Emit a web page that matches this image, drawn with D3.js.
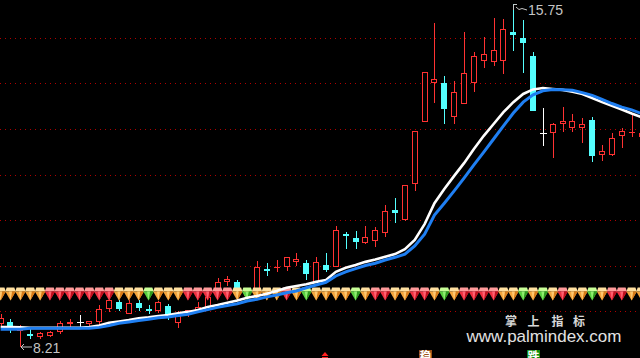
<!DOCTYPE html>
<html><head><meta charset="utf-8">
<script src="https://cdn.jsdelivr.net/npm/d3@7"></script>
<style>html,body{margin:0;padding:0;background:#000;overflow:hidden}</style>
</head><body>
<svg id="c" width="640" height="358"></svg>
<script>
// ---- data ----
const opens  = [8.71,8.76,8.56,8.49,8.43,8.45,8.54,8.71,8.76,8.71,8.76,9.04,9.20,8.93,9.18,9.04,9.00,9.11,8.74,8.96,
                8.98,9.09,9.42,9.64,9.64,9.33,9.46,9.92,9.95,9.97,10.08,10.05,9.64,10.01,9.97,10.69,10.60,10.49,10.54,10.71,
                11.22,11.00,11.79,13.15,14.01,14.01,13.26,13.55,14.01,14.49,14.47,14.49,15.13,15.00,14.60,12.91,12.91,13.11,13.02,13.02,
                13.20,12.43,12.43,12.85,12.91,12.82];
const highs  = [8.93,8.82,8.69,8.60,8.54,8.56,8.78,8.82,8.91,8.78,9.13,9.29,9.24,9.24,9.24,9.13,9.22,9.15,9.00,9.02,
                9.20,9.40,9.73,9.77,9.68,9.48,10.10,10.05,10.12,10.19,10.27,10.12,10.19,10.27,10.87,10.74,10.76,10.87,10.85,11.33,
                11.48,11.77,12.96,14.25,15.33,14.16,14.05,15.13,14.69,15.02,15.44,15.42,15.75,15.40,14.69,13.46,13.13,13.48,13.33,13.24,
                13.26,12.65,12.91,13.02,13.31,12.98];
const lows   = [8.63,8.52,8.21,8.38,8.38,8.43,8.49,8.65,8.65,8.67,8.71,8.98,9.00,8.93,9.00,8.93,8.96,8.80,8.63,8.87,
                8.96,9.07,9.33,9.55,9.42,9.29,9.42,9.77,9.86,9.88,9.99,9.68,9.64,9.86,9.97,10.36,10.36,10.47,10.41,10.63,
                10.93,10.98,11.64,13.15,13.57,13.11,13.11,13.55,13.81,14.34,14.38,14.21,14.71,14.23,13.40,12.63,12.36,12.93,12.93,12.69,
                12.27,12.30,12.41,12.58,12.82,12.78];
const closes = [8.85,8.65,8.63,8.45,8.52,8.54,8.74,8.75,8.76,8.78,9.04,9.24,9.04,9.18,9.07,9.00,9.20,8.93,8.89,9.02,
                9.09,9.31,9.64,9.70,9.51,9.44,9.97,9.88,9.97,10.19,10.14,9.81,10.08,9.90,10.78,10.65,10.52,10.63,10.78,11.20,
                11.15,11.77,12.96,14.25,14.10,13.44,13.81,14.23,14.60,14.65,14.74,15.20,15.07,14.89,13.40,12.91,13.11,13.18,13.18,13.11,
                12.41,12.52,12.80,12.96,12.93,12.91];
const maWhite = [8.65,8.65,8.64,8.63,8.63,8.63,8.63,8.63,8.63,8.65,8.68,8.74,8.77,8.80,8.84,8.86,8.89,8.91,8.95,8.98,
                 9.02,9.09,9.13,9.18,9.23,9.29,9.33,9.38,9.44,9.51,9.55,9.59,9.64,9.68,9.86,9.95,10.01,10.08,10.13,10.19,
                 10.25,10.36,10.56,10.91,11.37,11.68,11.97,12.25,12.56,12.85,13.11,13.37,13.59,13.77,13.87,13.90,13.88,13.86,13.82,13.77,
                 13.68,13.59,13.51,13.43,13.34,13.26];
const maBlue  = [8.60,8.60,8.60,8.62,8.62,8.62,8.62,8.62,8.62,8.62,8.64,8.68,8.73,8.76,8.79,8.82,8.85,8.87,8.90,8.93,
                 8.98,9.03,9.08,9.12,9.16,9.22,9.26,9.31,9.35,9.40,9.44,9.51,9.57,9.63,9.77,9.86,9.93,10.00,10.05,10.12,
                 10.18,10.25,10.43,10.69,11.11,11.37,11.64,11.92,12.21,12.49,12.78,13.07,13.35,13.59,13.75,13.84,13.87,13.86,13.85,13.80,
                 13.74,13.65,13.56,13.48,13.42,13.34];
// signal state per candle: 0 = neutral, 1 = hot, 2 = cool
const signals = [0,0,0,0,0,1,1,1,1,1,1,1,0,0,0,2,0,0,0,1,
                 1,1,1,1,0,2,0,0,0,1,0,2,0,0,0,0,2,0,1,1,
                 0,0,1,1,0,2,0,1,1,1,1,0,0,2,0,2,0,1,0,0,
                 2,0,1,1,0,0];
const gridPrices = [9,10,11,12,13,14,15];
const highIndex = 52, lowIndex = 2;
const markerUpIndex = 33;
const boxMarks = [{idx:43, text:"稳", kind:"steady"}, {idx:54, text:"跌", kind:"fall"}];
const brandName = ["掌","上","指","标"];
const brandUrl = "www.palmindex.com";

// ---- drawing ----
const W = 640, H = 358;
const svg = d3.select('#c');
svg.append('rect').attr('width', W).attr('height', H).attr('fill', '#000');

const n = opens.length;
const x = d3.scalePoint().domain(d3.range(n)).range([0.64, 641.5]);
const y = d3.scaleLinear().domain([9, 15]).range([311, 38]);

const RED = '#ff3232', CYAN = '#54ffff';

// grid
svg.append('g').selectAll('line').data(gridPrices).join('line')
  .attr('x1', 0).attr('x2', W)
  .attr('y1', d => Math.round(y(d)) + 0.5).attr('y2', d => Math.round(y(d)) + 0.5)
  .attr('stroke', '#b00000').attr('stroke-width', 1).attr('stroke-dasharray', '1 4');

// candles
const cg = svg.append('g').attr('shape-rendering', 'crispEdges');
d3.range(n).forEach(i => {
  const c = Math.round(x(i));
  const o = opens[i], cl = closes[i];
  const up = cl > o, down = cl < o;
  const yT = Math.round(y(Math.max(o, cl))), yB = Math.round(y(Math.min(o, cl)));
  const yH = Math.round(y(highs[i])), yL = Math.round(y(lows[i]));
  const wx = c + 0.5;
  if (up) {
    if (yB - yT <= 1) {
      cg.append('line').attr('x1', wx).attr('x2', wx).attr('y1', yH).attr('y2', yL).attr('stroke', RED);
      cg.append('rect').attr('x', c - 3).attr('y', yT).attr('width', 6).attr('height', Math.max(1, yB - yT)).attr('fill', RED);
    } else {
      if (yT > yH) cg.append('line').attr('x1', wx).attr('x2', wx).attr('y1', yH).attr('y2', yT).attr('stroke', RED);
      if (yL > yB) cg.append('line').attr('x1', wx).attr('x2', wx).attr('y1', yB).attr('y2', yL).attr('stroke', RED);
      cg.append('rect').attr('x', c - 2.5).attr('y', yT + 0.5).attr('width', 5).attr('height', yB - yT - 1)
        .attr('fill', '#000').attr('stroke', RED).attr('stroke-width', 1);
    }
  } else if (down) {
    cg.append('line').attr('x1', wx).attr('x2', wx).attr('y1', yH).attr('y2', yL).attr('stroke', CYAN);
    cg.append('rect').attr('x', c - 3).attr('y', yT).attr('width', 6).attr('height', Math.max(1, yB - yT)).attr('fill', CYAN);
  } else {
    cg.append('line').attr('x1', wx).attr('x2', wx).attr('y1', yH).attr('y2', yL).attr('stroke', '#fff');
    cg.append('line').attr('x1', c - 3).attr('x2', c + 4).attr('y1', yT + 0.5).attr('y2', yT + 0.5).attr('stroke', '#fff');
  }
});

// gem row
const gemColors = [
  {top:'#ffe0a0', main:'#f4a53c', dark:'#d77b18', mid:'#ffc870'},
  {top:'#ff9a9a', main:'#ee3040', dark:'#c0101e', mid:'#ff6070'},
  {top:'#c8ff98', main:'#58d040', dark:'#2f9a1e', mid:'#90ee70'}
];
const gg = svg.append('g');
signals.forEach((s, i) => {
  const c = x(i), col = gemColors[s];
  const t = 287.5, m = 291.5, b = 300.5;
  gg.append('polygon').attr('points', `${c-3.8},${t} ${c+3.8},${t} ${c+5.2},${m} ${c-5.2},${m}`).attr('fill', col.top);
  gg.append('polygon').attr('points', `${c-5.2},${m} ${c+5.2},${m} ${c},${b}`).attr('fill', col.main);
  gg.append('polygon').attr('points', `${c+1.5},${m} ${c+5.2},${m} ${c},${b}`).attr('fill', col.dark);
  gg.append('polygon').attr('points', `${c-1.5},${m} ${c+1.5},${m} ${c},${b}`).attr('fill', col.mid);
});

// moving averages
const line = d3.line().x((d, i) => x(i)).y(d => y(d));
svg.append('path').datum(maWhite).attr('d', line).attr('fill', 'none').attr('stroke', '#ffffff').attr('stroke-width', 2.6);
svg.append('path').datum(maBlue).attr('d', line).attr('fill', 'none').attr('stroke', '#1f7ff2').attr('stroke-width', 3);

// high label
const LBL = '#c4c4c4';
{
  const c = Math.round(x(highIndex)), yy = Math.round(y(highs[highIndex]));
  svg.append('path').attr('d', `M${c+0.5},${yy+6} V${yy+0.5} H${c+4} M${c+3},${yy+3} L${c+6},${yy+5.5} L${c+9},${yy+4.5} L${c+14},${yy+6}`)
    .attr('fill', 'none').attr('stroke', LBL).attr('stroke-width', 1);
  svg.append('text').attr('x', c + 15).attr('y', yy + 11).text(highs[highIndex].toFixed(2))
    .attr('fill', LBL).attr('font-family', 'Liberation Sans Narrow, Liberation Sans, Arial, sans-serif').attr('font-size', 14);
}
// low label
{
  const c = Math.round(x(lowIndex)), yy = Math.round(y(lows[lowIndex]));
  svg.append('path').attr('d', `M${c+4},${yy-3} L${c+1},${yy} L${c+4},${yy+3} M${c+1},${yy} H${c+12}`)
    .attr('fill', 'none').attr('stroke', LBL).attr('stroke-width', 1);
  svg.append('text').attr('x', c + 13).attr('y', yy + 5.5).text(lows[lowIndex].toFixed(2))
    .attr('fill', LBL).attr('font-family', 'Liberation Sans Narrow, Liberation Sans, Arial, sans-serif').attr('font-size', 14);
}

// watermark
const brandX = [511, 533.5, 557.5, 579];
svg.append('g').selectAll('text').data(brandName).join('text')
  .attr('x', (d, i) => brandX[i]).attr('y', 325.5).attr('text-anchor', 'middle')
  .attr('font-family', 'Noto Sans CJK SC, sans-serif').attr('font-weight', 'bold').attr('font-size', 12)
  .attr('fill', '#d8d8d8').text(d => d);
svg.append('text').attr('x', 544).attr('y', 341.5).attr('text-anchor', 'middle')
  .attr('font-family', 'Liberation Sans, Arial, sans-serif').attr('font-size', 17)
  .attr('fill', '#e2e2e2').text(brandUrl);

// bottom markers
{
  const c = Math.round(x(markerUpIndex)) - 1;
  svg.append('polygon').attr('points', `${c},352 ${c-3.5},356 ${c+3.5},356`).attr('fill', '#ff2020');
  svg.append('rect').attr('x', c - 3).attr('y', 357).attr('width', 6).attr('height', 1).attr('fill', '#ff2020');
}
boxMarks.forEach(b => {
  const c = x(b.idx);
  svg.append('rect').attr('x', Math.round(c) - 6).attr('y', 350).attr('width', 13).attr('height', 10)
    .attr('fill', b.kind === 'steady' ? '#9a5018' : '#0a8a0a');
  svg.append('text').attr('x', Math.round(c) + 0.5).attr('y', 361).attr('text-anchor', 'middle')
    .attr('font-family', 'Noto Sans CJK SC, sans-serif').attr('font-size', 12).attr('font-weight', 'bold')
    .attr('fill', '#fff').text(b.text);
});
</script>
</body></html>
